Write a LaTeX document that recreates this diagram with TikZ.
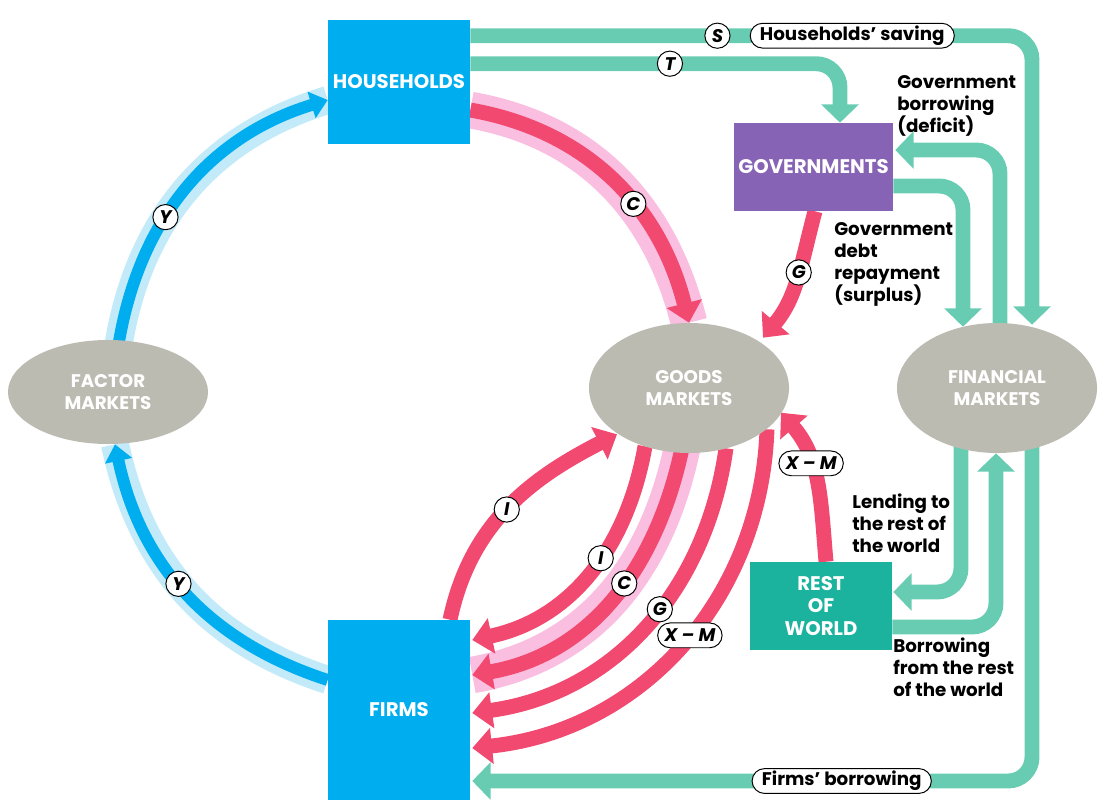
\documentclass[tikz,border=0pt]{standalone}
\usepackage{fontspec}
\setmainfont{Poppins}
\usetikzlibrary{arrows.meta,shapes.geometric,shapes.misc,calc,backgrounds}

\definecolor{hhblue}{HTML}{00AEEF}
\definecolor{halob}{HTML}{C3EAF9}
\definecolor{govpurple}{HTML}{8763B5}
\definecolor{rowteal}{HTML}{1BB39E}
\definecolor{flowgreen}{HTML}{68CCB2}
\definecolor{flowred}{HTML}{F1496F}
\definecolor{halop}{HTML}{F9BEE0}
\definecolor{mktgray}{HTML}{BCBBB2}

\begin{document}
\begin{tikzpicture}[x=0.025cm, y=-0.025cm,
  sector/.style={rectangle, inner sep=0pt, text=white, align=center,
    font=\bfseries\fontsize{14}{16}\selectfont},
  market/.style={ellipse, fill=mktgray, inner sep=0pt, text=white, align=center,
    font=\bfseries\fontsize{13}{15.5}\selectfont},
  gflow/.style={draw=flowgreen, line width=10.6pt, rounded corners=17pt,
    -{Triangle[width=26pt,length=13pt]}},
  rflow/.style={draw=flowred, line width=10.6pt, -{Triangle[width=25pt,length=14pt]}},
  bflow/.style={draw=hhblue, line width=8.5pt, -{Triangle[width=19pt,length=12pt]}},
  phalo/.style={draw=halop, line width=26pt},
  bhalo/.style={draw=halob, line width=20pt},
  tag/.style={circle, sharp corners, draw=black, fill=white, line width=0.7pt, inner sep=0pt,
    minimum size=0.63cm, font=\bfseries\itshape\fontsize{13}{13}\selectfont},
  pill/.style={rounded rectangle, sharp corners, draw=black, fill=white, line width=0.7pt,
    inner xsep=3.5pt, inner ysep=0pt, minimum height=0.62cm,
    font=\bfseries\fontsize{13}{13}\selectfont},
  note/.style={anchor=north west, inner sep=0pt, align=left,
    font=\bfseries\fontsize{13}{15.6}\selectfont}]

  \useasboundingbox (0,0) rectangle (1105,809);

  % ==========================================
  % SECTEURS ET MARCHES
  % ==========================================
  \node[sector, fill=hhblue, minimum width=3.55cm, minimum height=3.1cm] (hh) at (399,82) {HOUSEHOLDS};
  \node[sector, fill=hhblue, minimum width=3.55cm, minimum height=4.5cm] (firms) at (399,710) {FIRMS};
  \node[sector, fill=govpurple, minimum width=3.975cm, minimum height=2.2cm] (gov) at (813.5,167) {GOVERNMENTS};
  \node[sector, fill=rowteal, minimum width=3.55cm, minimum height=2.2cm] (row) at (821,606) {REST\\OF\\WORLD};

  \node[market, minimum width=5cm, minimum height=2.6cm] (factor) at (108,392) {FACTOR\\MARKETS};
  \node[market, minimum width=5cm, minimum height=3.25cm] (goods) at (689,388) {GOODS\\MARKETS};
  \node[market, minimum width=5cm, minimum height=3.25cm] (fin) at (997,388) {FINANCIAL\\MARKETS};

  % Textes des flux financiers
  \node[note] (govborrow) at (897,75) {Government\\borrowing\\(deficit)};
  \node[note] (govrepay) at (834,222) {Government\\debt\\repayment\\(surplus)};
  \node[note] (lend) at (852,494) {Lending to\\the rest of\\the world};
  \node[note] (borrow) at (893,638) {Borrowing\\from the rest\\of the world};

  \begin{pgfonlayer}{background}
    % ==========================================
    % FLUX REELS Y (A GAUCHE)
    % ==========================================
    \draw[bhalo] ($(factor.north)+(10,8)$) to[out=81,in=197] ($(hh.west)+(0,18)$);
    \draw[bflow] ($(factor.north)+(10,8)$) to[out=81,in=197]
      node[tag, pos=0.4] (yup) {Y} ($(hh.west)+(0,18)$);
    \draw[bhalo] ($(firms.west)+(0,-30)$) to[out=162,in=-78] ($(factor.south)+(7,0)$);
    \draw[bflow] ($(firms.west)+(0,-30)$) to[out=162,in=-78]
      node[tag, pos=0.54] (ydown) {Y} ($(factor.south)+(7,0)$);

    % ==========================================
    % DEPENSES (EN ROUGE)
    % ==========================================
    \draw[phalo] ($(hh.east)+(0,28)$) to[out=-10,in=104] (goods.north);
    \draw[rflow] ($(hh.east)+(0,28)$) to[out=-10,in=104]
      node[tag, pos=0.6] (cup) {C} (goods.north);
    \draw[rflow] ($(gov.south)+(1.5,0)$) to[out=-105,in=50]
      node[tag, pos=0.45] (ggov) {G} ($(goods.north)+(74,15)$);
    \draw[rflow] ($(row.north)+(5,0)$) to[out=95,in=-49]
      node[pill, pos=0.63] (nxup) {\itshape X – M} ($(goods.north)+(92,90)$);
    \draw[rflow] ($(firms.north)+(51,0)$) to[out=78,in=207]
      node[tag, pos=0.49] (iup) {I} ($(goods.south)+(-72,-19)$);

    % Retour vers les entreprises
    \draw[phalo] ($(goods.south)+(-7,-5)$) to[out=-102,in=10] ($(firms.east)+(2,-35)$);
    \draw[rflow] ($(goods.south)+(-44,-7)$) to[out=-100,in=12]
      node[tag, pos=0.43] (idown) {I} ($(firms.east)+(2,-70)$);
    \draw[rflow] ($(goods.south)+(-7,-5)$) to[out=-102,in=10]
      node[tag, pos=0.44] (cdown) {C} ($(firms.east)+(2,-35)$);
    \draw[rflow] ($(goods.south)+(37,-5)$) to[out=-98,in=8]
      node[tag, pos=0.44] (gdown) {G} ($(firms.east)+(2,3)$);
    \draw[rflow] ($(goods.south)+(78,-24)$) to[out=-92,in=6]
      node[pill, pos=0.47] (nxdown) {\itshape X – M} ($(firms.east)+(2,38)$);

    % ==========================================
    % FLUX FINANCIERS (EN VERT)
    % ==========================================
    \draw[gflow] ($(hh.north east)+(0,16)$) -| ($(fin.north)+(35,2)$)
      node[tag, pos=0.22] (stag) {S}
      node[pill, pos=0.34] (saving) {Households’ saving};
    \draw[gflow] ($(hh.north east)+(0,44)$) -| ($(gov.north)+(26.5,0)$)
      node[tag, pos=0.27] (ttag) {T};
    \draw[gflow] ($(fin.north)+(3,8)$) |- ($(gov.east)+(2,-17)$);
    \draw[gflow] ($(gov.east)+(0,19)$) -| ($(fin.north)+(-34,4)$);
    \draw[gflow] ($(fin.south)+(-36,-10)$) |- ($(row.east)+(1,-14)$);
    \draw[gflow] ($(row.east)+(0,21)$) -| ($(fin.south)+(-1,0)$);
    \draw[gflow] ($(fin.south)+(35,-10)$) |- ($(firms.east)+(2,71)$)
      node[pill, pos=0.67] (fborrow) {Firms’ borrowing};
  \end{pgfonlayer}

\end{tikzpicture}
\end{document}
